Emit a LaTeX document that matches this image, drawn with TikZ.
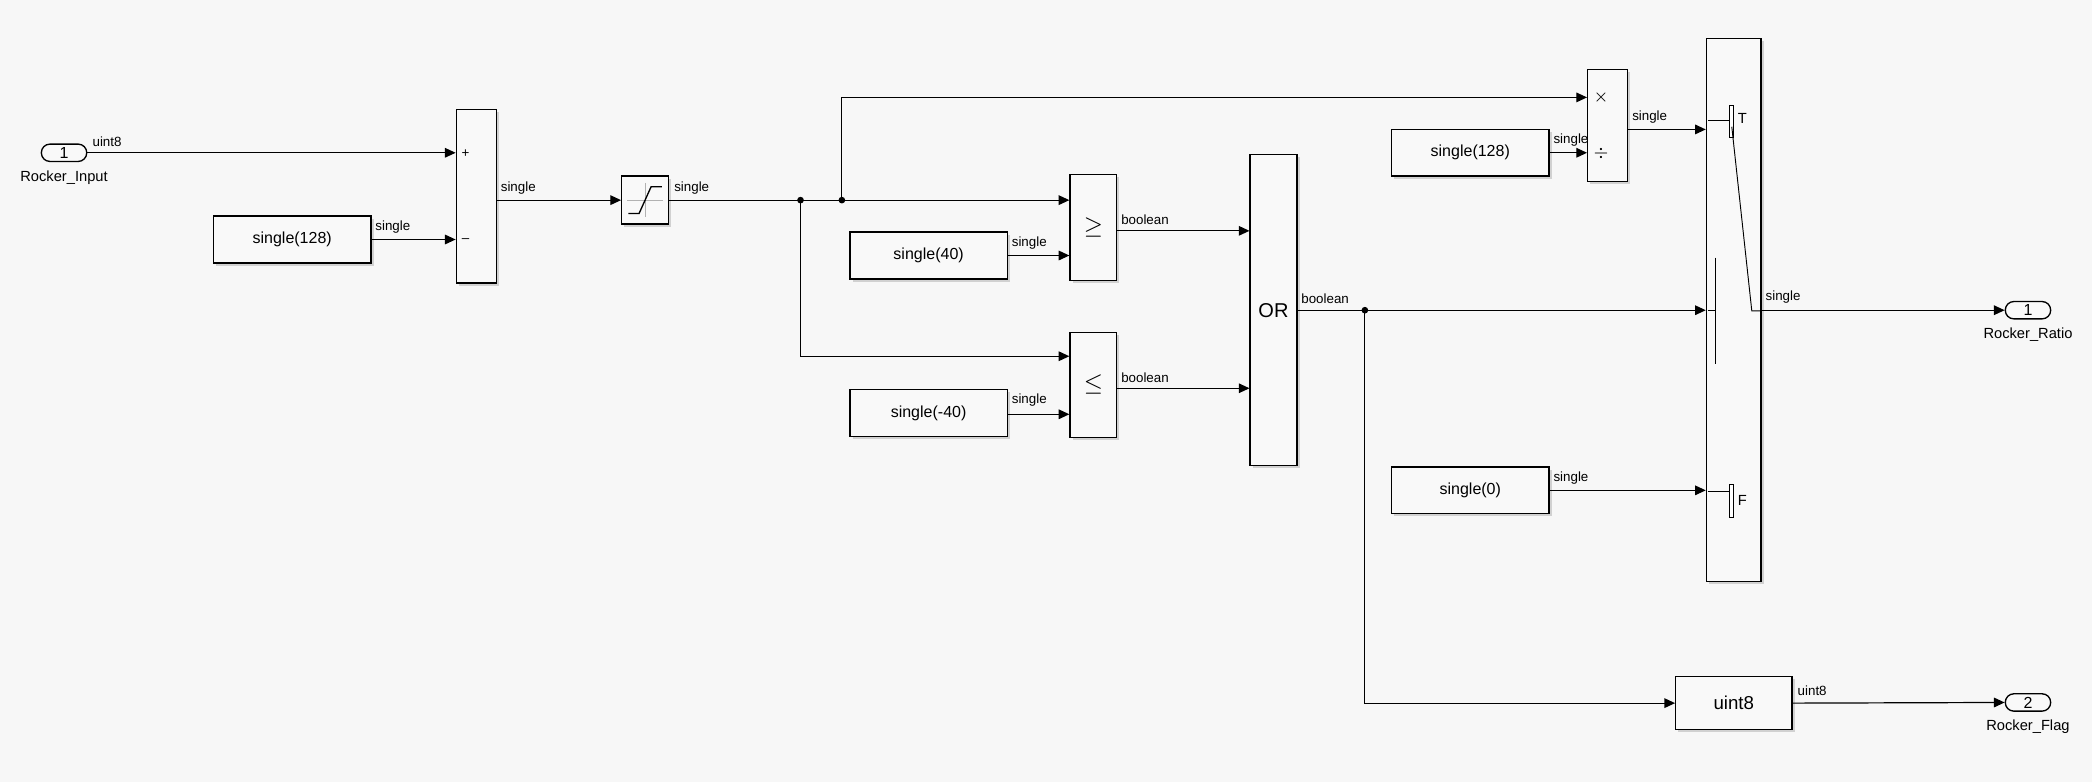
\documentclass[tikz,border=0pt]{standalone}
\usepackage{fontspec}
\setmainfont{Liberation Sans}
\usetikzlibrary{arrows.meta,calc}
\definecolor{bg}{HTML}{F7F7F7}
\definecolor{bf}{HTML}{F9F9F9}
\begin{document}
\begin{tikzpicture}[x=0.5pt,y=-0.5pt,
  blk/.style={draw,fill=bf,line width=0.5pt,inner sep=0pt,font=\fontsize{6}{7}\selectfont},
  port/.style={draw,fill=bf,line width=0.5pt,rounded corners=3.2pt,minimum width=17pt,minimum height=6.5pt,inner sep=0pt,font=\fontsize{6}{7}\selectfont},
  sig/.style={line width=0.45pt,-{Triangle[length=4pt,width=3.6pt]}},
  lab/.style={font=\fontsize{5}{6}\selectfont,inner sep=0.5pt,anchor=south west},
  plab/.style={font=\fontsize{5.5}{6.5}\selectfont,inner sep=0pt},
  dot/.style={circle,fill,inner sep=0pt,minimum size=2.5pt}]
\fill[bg] (0,0) rectangle (1568,586);
\useasboundingbox (0,0) rectangle (1568,586);
% shadows
\foreach \a/\b/\c/\d in {342/82/372/212,160/162/278/197,466/132/501/168,802/131/837/210,637/174/755/209,802/249/837/328,637/292/755/327,937/116/972/349,1190/52/1220/136,1043/97/1161/132,1043/350/1161/385,1279/29/1320/436,1256/507/1343/547}
  \fill[black!18] (\a+2,\b+2) rectangle (\c+2,\d+2);
% blocks
\node[port] (in1) at (48,114.5) {1};
\node[plab] at (48,133) {Rocker\_Input};
\node[blk,minimum width=15pt,minimum height=65pt] (sum) at (357,147) {};
\node[font=\fontsize{5}{6}\selectfont] at (349,115) {+};
\node[font=\fontsize{5}{6}\selectfont] at (349,180) {--};
\node[blk,minimum width=59pt,minimum height=17.5pt] (c1) at (219,179.5) {single(128)};
\node[blk,minimum width=17.5pt,minimum height=18pt] (sat) at (483.5,150) {};
\draw[black!30,line width=0.3pt] (470,150) -- (497,150) (483.5,137) -- (483.5,163);
\draw[line width=0.5pt] (471,160) -- (479,160) -- (488,140) -- (496,140);
\node[blk,minimum width=17.5pt,minimum height=39.5pt,font=\fontsize{9}{10}\selectfont] (ge) at (819.5,170.5) {$\geq$};
\node[blk,minimum width=59pt,minimum height=17.5pt] (c40) at (696,191.5) {single(40)};
\node[blk,minimum width=17.5pt,minimum height=39.5pt,font=\fontsize{9}{10}\selectfont] (le) at (819.5,288.5) {$\leq$};
\node[blk,minimum width=59pt,minimum height=17.5pt] (cm40) at (696,309.5) {single(-40)};
\node[blk,minimum width=17.5pt,minimum height=116.5pt,font=\fontsize{7.5}{8}\selectfont] (or) at (954.5,232.5) {OR};
\node[blk,minimum width=15pt,minimum height=42pt] (prod) at (1205,94) {};
\node[font=\fontsize{6}{7}\selectfont] at (1200,73) {$\times$};
\node[font=\fontsize{6}{7}\selectfont] at (1200,115) {$\div$};
\node[blk,minimum width=59pt,minimum height=17.5pt] (c128b) at (1102,114.5) {single(128)};
\node[blk,minimum width=59pt,minimum height=17.5pt] (c0) at (1102,367.5) {single(0)};
\node[blk,minimum width=20.5pt,minimum height=203.5pt] (sw) at (1299.5,232.5) {};
\node[blk,minimum width=43.5pt,minimum height=20pt,font=\fontsize{7}{8}\selectfont] (u8) at (1299.5,527) {uint8};
\node[port] (out1) at (1520,232.5) {1};
\node[plab] at (1520,251) {Rocker\_Ratio};
\node[port] (out2) at (1520,526.5) {2};
\node[plab] at (1520,545) {Rocker\_Flag};
% switch internals
\draw[line width=0.35pt] (1280,90) -- (1297,90);
\draw[line width=0.35pt,fill=white] (1296,79) rectangle (1299,103);
\node[plab] at (1306,89) {T};
\draw[line width=0.35pt] (1298,95) -- (1313,233) -- (1320,233);
\draw[line width=0.35pt] (1280,232.5) -- (1286,232.5) (1286,193) -- (1286,273);
\draw[line width=0.35pt] (1280,368) -- (1297,368);
\draw[line width=0.35pt,fill=white] (1296,363) rectangle (1299,388);
\node[plab] at (1306,375) {F};
% junctions
\coordinate (j1) at (600,150);
\coordinate (j2) at (631,150);
\coordinate (j3) at (1023,232.5);
% signals
\draw[sig] (in1.east) -- (in1.east -| sum.west);
\node[lab] at (68,111) {uint8};
\draw[sig] (c1.east) -- (c1.east -| sum.west);
\node[lab] at (280,176) {single};
\draw[sig] (sat.west -| sum.east) -- (sat.west);
\node[lab] at (374,147) {single};
\draw[sig] (sat.east) -- (sat.east -| ge.west);
\node[lab] at (504,147) {single};
\draw[sig] (j2) |- ([yshift=10.5pt]prod.west);
\draw[sig] (j1) |- ([yshift=10.75pt]le.west);
\node[dot] at (j1) {};
\node[dot] at (j2) {};
\draw[sig] (c40.east) -- (c40.east -| ge.west);
\node[lab] at (757,188) {single};
\draw[sig] ([yshift=-0.5pt]cm40.east) -- ([yshift=-0.5pt]cm40.east -| le.west);
\node[lab] at (757,306) {single};
\draw[sig] (ge.east |- 0,173) -- (or.west |- 0,173);
\node[lab] at (839,170) {boolean};
\draw[sig] (le.east |- 0,291) -- (or.west |- 0,291);
\node[lab] at (839,288) {boolean};
\draw[sig] (or.east) -- (or.east -| sw.west);
\node[lab] at (974,229) {boolean};
\draw[sig] (j3) |- (u8.west);
\node[dot] at (j3) {};
\draw[sig] (c128b.east) -- (c128b.east -| prod.west);
\node[lab] at (1163,111) {single};
\draw[sig] (prod.east |- 0,97) -- (sw.west |- 0,97);
\node[lab] at (1222,94) {single};
\draw[sig] (c0.east) -- (c0.east -| sw.west);
\node[lab] at (1163,364) {single};
\draw[sig] (sw.east) -- (out1.west);
\node[lab] at (1322,229) {single};
\draw[sig] (u8.east) -- (out2.west);
\node[lab] at (1346,523) {uint8};
\end{tikzpicture}
\end{document}
